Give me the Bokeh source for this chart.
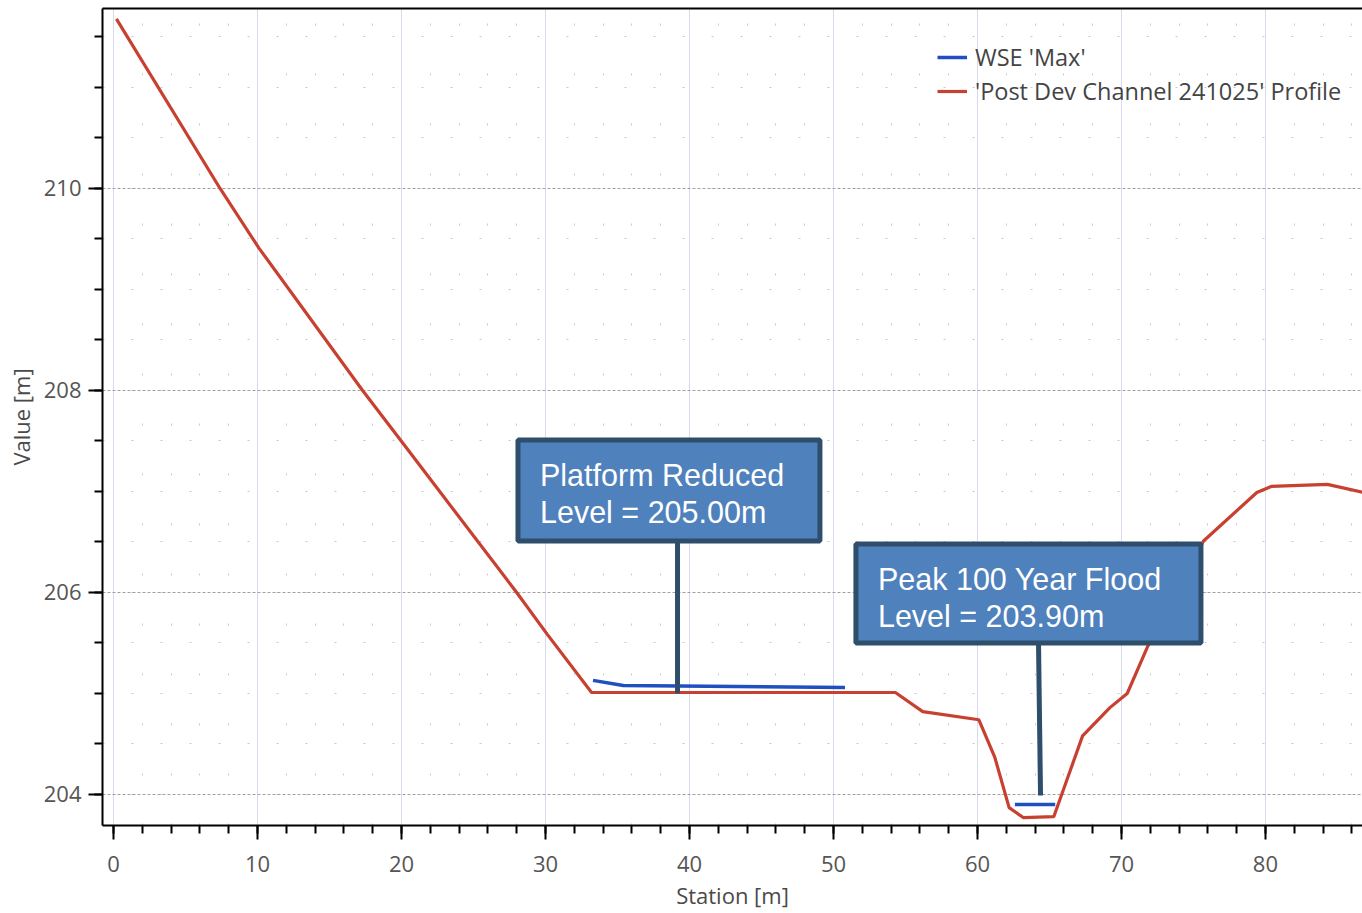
from bokeh.plotting import figure
from bokeh.models import (Range1d, SingleIntervalTicker, FixedTicker, LinearAxis,
                          BoxAnnotation, Label, Arrow, Legend, LegendItem)
from bokeh.embed import file_html
from bokeh.resources import INLINE

# ---- data ----
profile_station = [0.2, 7.4, 10.1, 17.3, 20.3, 28.0, 30.1, 33.2, 54.3, 56.2,
                   60.1, 61.2, 62.2, 63.2, 65.3, 67.3, 69.2, 70.4, 71.8, 75.7,
                   79.4, 80.4, 84.3, 86.8]
profile_value = [211.68, 210.0, 209.41, 208.0, 207.44, 206.0, 205.59, 205.01,
                 205.01, 204.82, 204.74, 204.37, 203.87, 203.77, 203.78, 204.58,
                 204.86, 205.0, 205.46, 206.51, 206.99, 207.05, 207.07, 206.99]

nan = float("nan")
wse_station = [33.3, 35.4, 50.8, nan, 62.6, 65.4]
wse_value = [205.13, 205.08, 205.06, nan, 203.90, 203.90]

series_names = ["WSE 'Max'", "'Post Dev Channel 241025' Profile"]

callout_texts = ["Platform Reduced\nLevel = 205.00m", "Peak 100 Year Flood\nLevel = 203.90m"]
callout_target_x = [39.17, 64.38]
callout_target_y = [205.0, 203.99]

# ---- figure ----
AX_FONT = "Open Sans"
p = figure(width=1362, height=912,
           x_range=Range1d(-0.764, 86.74), y_range=Range1d(203.693, 211.782),
           output_backend="svg", toolbar_location=None,
           min_border_left=102, min_border_right=0, min_border_top=8,
           min_border_bottom=87)
p.background_fill_color = "white"
p.border_fill_color = "white"
p.outline_line_color = None

xt = SingleIntervalTicker(interval=10, num_minor_ticks=5)
yt = SingleIntervalTicker(interval=2, num_minor_ticks=4)
p.xaxis.ticker = xt
p.yaxis.ticker = yt
p.xgrid.ticker = xt
p.ygrid.ticker = yt

for ax in (p.xaxis, p.yaxis):
    ax.axis_line_color = "black"
    ax.axis_line_width = 2
    ax.major_tick_line_color = "black"
    ax.major_tick_line_width = 2
    ax.minor_tick_line_color = "black"
    ax.minor_tick_line_width = 2
    ax.major_tick_in = 0
    ax.minor_tick_in = 0
    ax.major_tick_out = 14
    ax.minor_tick_out = 8
    ax.major_label_text_font = AX_FONT
    ax.major_label_text_font_size = "22px"
    ax.major_label_text_color = "#555555"
    ax.axis_label_text_font = AX_FONT
    ax.axis_label_text_font_size = "22px"
    ax.axis_label_text_font_style = "normal"
    ax.axis_label_text_color = "#4a4a4a"

p.xaxis.axis_label = "Station [m]"
p.yaxis.axis_label = "Value [m]"
p.xaxis.major_label_standoff = 16
p.xaxis.axis_label_standoff = 5
p.yaxis.major_label_standoff = 7
p.yaxis.axis_label_standoff = 5

# top border line (no right border in the reference)
top_axis = LinearAxis(ticker=FixedTicker(ticks=[]), axis_line_color="black",
                      axis_line_width=2, major_tick_out=0, minor_tick_out=0,
                      major_label_standoff=0)
p.add_layout(top_axis, "above")

# grids
p.xgrid.grid_line_color = "#d9d9ee"
p.xgrid.grid_line_width = 1
p.ygrid.grid_line_color = "#a0a0a0"
p.ygrid.grid_line_dash = "3 2"
p.ygrid.grid_line_width = 1
p.xgrid.minor_grid_line_color = "#c8c8c8"
p.xgrid.minor_grid_line_dash = "2 48"
p.ygrid.minor_grid_line_color = "#c8c8c8"
p.ygrid.minor_grid_line_dash = "2 27"

# series
r_profile = p.line(profile_station, profile_value, line_color="#c8402f",
                   line_width=3.2)
r_wse = p.line(wse_station, wse_value, line_color="#1f4fc0", line_width=3.5)

legend = Legend(items=[LegendItem(label=series_names[0], renderers=[r_wse]),
                       LegendItem(label=series_names[1], renderers=[r_profile])],
                location=(835, 718))
legend.background_fill_alpha = 0
legend.border_line_color = None
legend.padding = 0
legend.margin = 0
legend.spacing = 2
legend.glyph_width = 30
legend.glyph_height = 24
legend.label_height = 24
legend.label_standoff = 8
legend.label_text_font = AX_FONT
legend.label_text_font_size = "23.5px"
legend.label_text_color = "#444444"
p.add_layout(legend)

# callouts
BOX_FILL = "#4f81bd"
BOX_LINE = "#2f4e6c"
boxes = [(28.09, 49.06, 207.51, 206.51), (51.56, 75.52, 206.48, 205.50)]
arrow_top_x = [39.17, 64.24]
for i, (l, r, t, b) in enumerate(boxes):
    p.add_layout(BoxAnnotation(left=l, right=r, top=t, bottom=b,
                               fill_color=BOX_FILL, fill_alpha=1,
                               line_color=BOX_LINE, line_alpha=1, line_width=5))
    p.add_layout(Arrow(x_start=arrow_top_x[i], y_start=b,
                       x_end=callout_target_x[i], y_end=callout_target_y[i],
                       end=None, line_color=BOX_LINE, line_width=5))
    p.add_layout(Label(x=l, y=t, x_offset=22, y_offset=-18,
                       text=callout_texts[i], text_font="Liberation Sans",
                       text_font_size="30.5px", text_color="white",
                       text_baseline="top", text_align="left",
                       text_line_height=1.1))

open("out.html", "w").write(file_html(p, INLINE))
